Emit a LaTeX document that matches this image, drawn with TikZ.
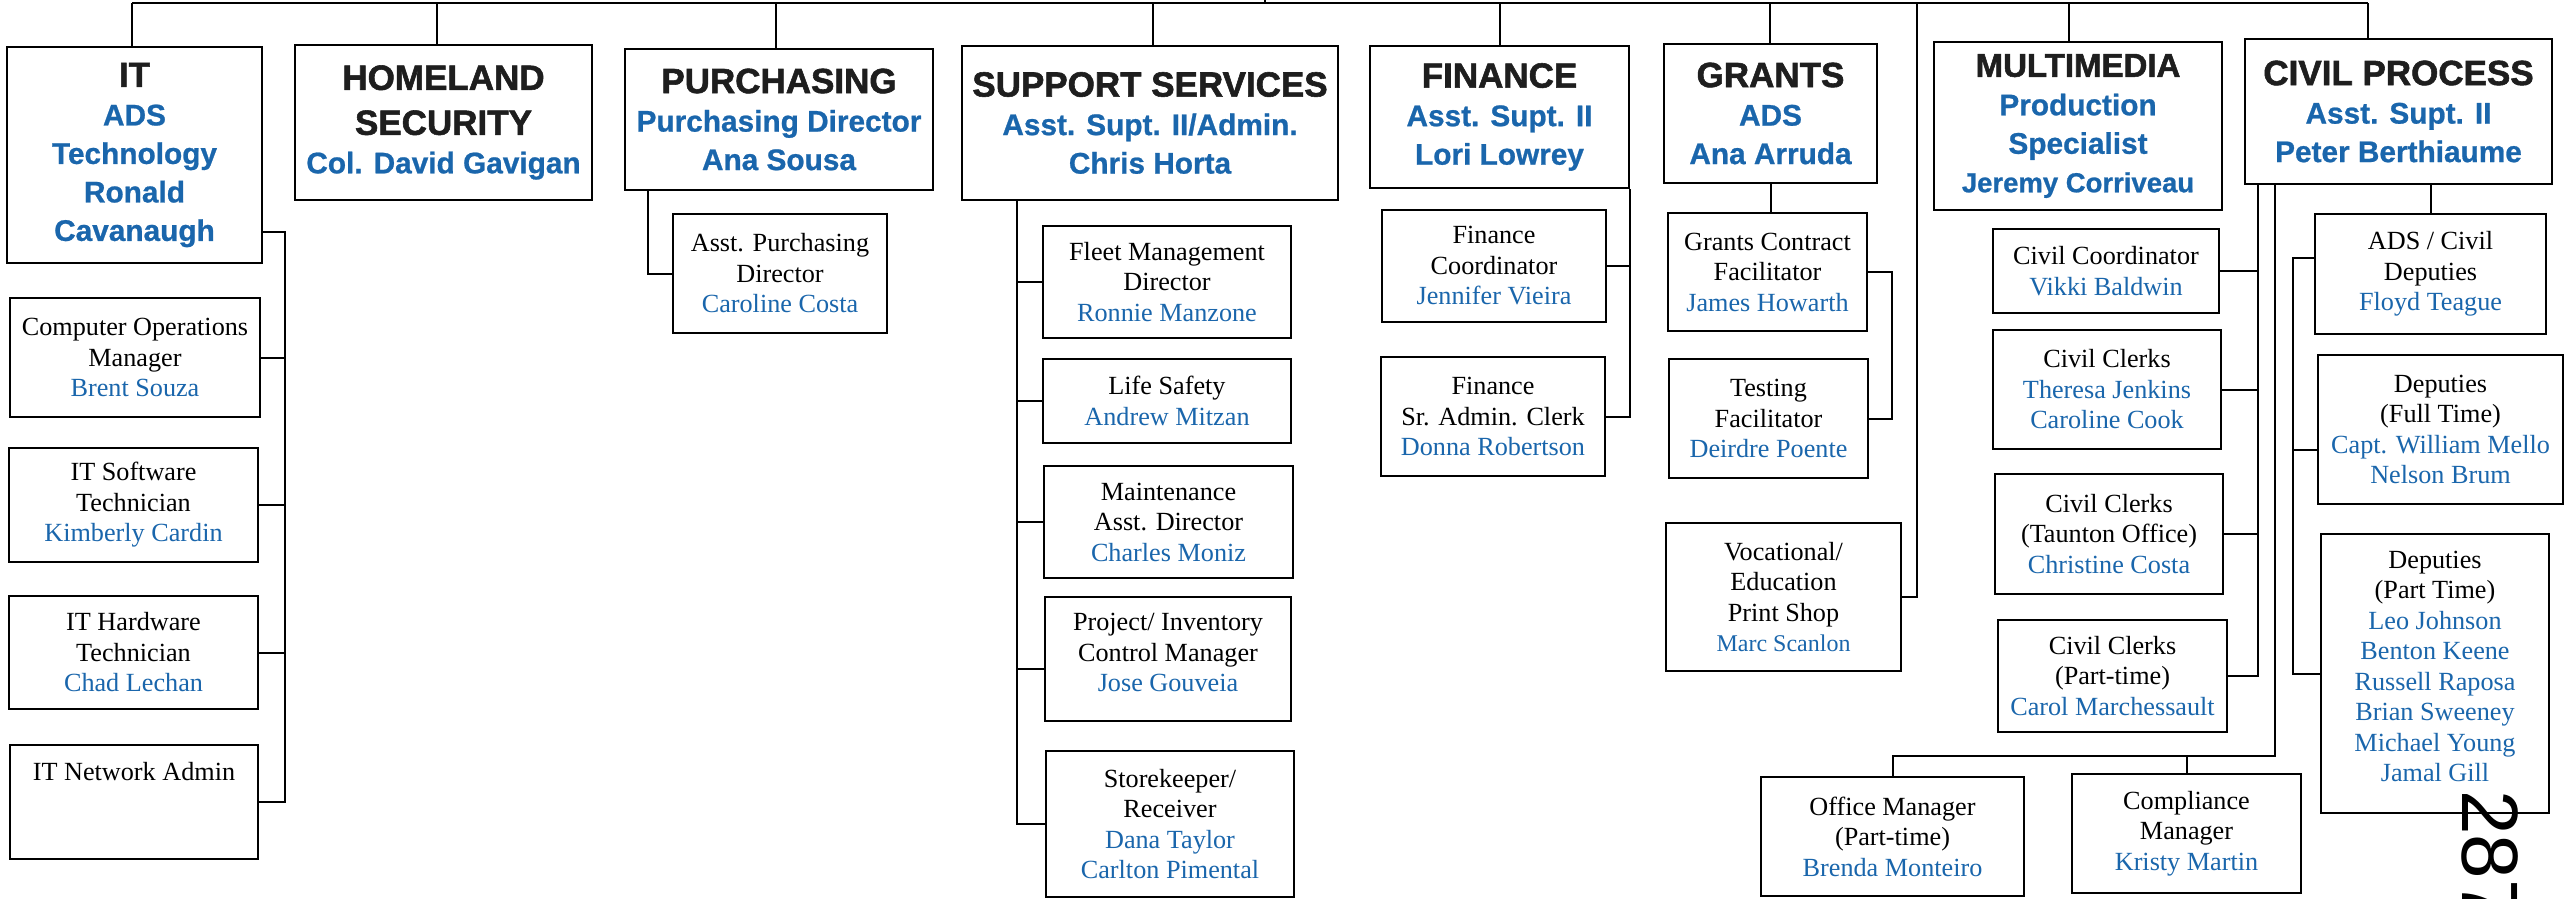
\documentclass[tikz,border=0pt]{standalone}
\usepackage{fontspec}
\setmainfont{Liberation Serif}
\setsansfont{Liberation Sans}
\newfontfamily\hvyfont[BoldFeatures={FakeBold=1.6}]{Liberation Sans}
\newfontfamily\bluefont[BoldFeatures={FakeBold=0.8}]{Liberation Sans}
\definecolor{nm}{RGB}{26,102,172}
\definecolor{hd}{RGB}{30,30,30}
\newcommand\obox[7]{%
  \pgfmathsetmacro\oW{#5-#3}\pgfmathsetmacro\oH{#6-#4}%
  \pgfmathsetmacro\oX{(#3+#5)/2}\pgfmathsetmacro\oY{(#4+#6)/2}%
  \node[#1,minimum width=\oW pt,minimum height=\oH pt] (#2) at (\oX,\oY) {#7};}
\newcommand\hdl[1]{{\color{hd}\hvyfont\bfseries\fontsize{35}{38.5}\selectfont #1}}
\newcommand\nmc[1]{\textcolor{nm}{#1}}
\begin{document}
\begin{tikzpicture}[x=1pt,y=-1pt,
  hbox/.style={draw=black,line width=2.5pt,inner sep=0pt,align=center,
    font=\bluefont\bfseries\fontsize{29.8}{38.5}\selectfont,text=nm},
  cbox/.style={draw=black,line width=2.2pt,inner sep=0pt,align=center,
    font=\fontsize{26.2}{30.5}\selectfont,text=black},
  conn/.style={draw=black,line width=2pt}]
\useasboundingbox (0,0) rectangle (2569,898);
\fill[white] (0,0) rectangle (2569,898);
% headers
\obox{hbox}{it}{7}{47}{262}{263}{\hdl{IT}\\ADS\\Technology\\Ronald\\Cavanaugh}
\obox{hbox}{hs}{295}{45}{592}{200}{\hdl{HOMELAND}\\[6.5pt]\hdl{SECURITY}\\Col. David Gavigan}
\obox{hbox}{pu}{625}{49}{933}{190}{\hdl{PURCHASING}\\Purchasing Director\\Ana Sousa}
\obox{hbox}{ss}{962}{46}{1338}{200}{\hdl{SUPPORT SERVICES}\\Asst. Supt. II/Admin.\\Chris Horta}
\obox{hbox}{fi}{1370}{46}{1629}{188}{\hdl{FINANCE}\\Asst. Supt. II\\Lori Lowrey}
\obox{hbox}{gr}{1664}{44}{1877}{183}{\hdl{GRANTS}\\ADS\\Ana Arruda}
\obox{hbox}{mm}{1934}{42}{2222}{210}{{\color{hd}\hvyfont\bfseries\fontsize{33}{38}\selectfont MULTIMEDIA}\\Production\\Specialist\\{\fontsize{27.5}{38}\selectfont Jeremy Corriveau}}
\obox{hbox}{cp}{2245}{39}{2552}{184}{\hdl{CIVIL PROCESS}\\Asst. Supt. II\\Peter Berthiaume}
% IT
\obox{cbox}{itc}{10}{298}{260}{417}{Computer Operations\\Manager\\\nmc{Brent Souza}}
\obox{cbox}{its}{9}{448}{258}{562}{IT Software\\Technician\\\nmc{Kimberly Cardin}}
\obox{cbox}{ith}{9}{596}{258}{709}{IT Hardware\\Technician\\\nmc{Chad Lechan}}
\obox{cbox}{itn}{10}{745}{258}{859}{IT Network Admin\\\mbox{}\\\mbox{}}
% Purchasing
\obox{cbox}{pa}{673}{214}{887}{333}{Asst. Purchasing\\Director\\\nmc{Caroline Costa}}
% Support services
\obox{cbox}{sf}{1043}{226}{1291}{338}{Fleet Management\\Director\\\nmc{Ronnie Manzone}}
\obox{cbox}{sl}{1043}{359}{1291}{443}{Life Safety\\\nmc{Andrew Mitzan}}
\obox{cbox}{sm}{1044}{466}{1293}{578}{Maintenance\\Asst. Director\\\nmc{Charles Moniz}}
\obox{cbox}{sp}{1045}{597}{1291}{721}{Project/ Inventory\\Control Manager\\\nmc{Jose Gouveia}\\[-18pt]\mbox{}}
\obox{cbox}{sk}{1046}{751}{1294}{897}{Storekeeper/\\Receiver\\\nmc{Dana Taylor}\\\nmc{Carlton Pimental}}
% Finance
\obox{cbox}{fc}{1382}{210}{1606}{322}{Finance\\Coordinator\\\nmc{Jennifer Vieira}}
\obox{cbox}{fs}{1381}{357}{1605}{476}{Finance\\Sr. Admin. Clerk\\\nmc{Donna Robertson}}
% Grants
\obox{cbox}{gc}{1668}{213}{1867}{331}{Grants Contract\\Facilitator\\\nmc{James Howarth}}
\obox{cbox}{gt}{1669}{359}{1868}{478}{Testing\\Facilitator\\\nmc{Deirdre Poente}}
\obox{cbox}{vo}{1666}{523}{1901}{671}{Vocational/\\Education\\Print Shop\\{\fontsize{24}{30.5}\selectfont\nmc{Marc Scanlon}}}
% Civil process
\obox{cbox}{cc}{1993}{229}{2219}{313}{Civil Coordinator\\\nmc{Vikki Baldwin}}
\obox{cbox}{ca}{1993}{330}{2221}{449}{Civil Clerks\\\nmc{Theresa Jenkins}\\\nmc{Caroline Cook}}
\obox{cbox}{cb}{1995}{474}{2223}{594}{Civil Clerks\\(Taunton Office)\\\nmc{Christine Costa}}
\obox{cbox}{cd}{1998}{620}{2227}{732}{Civil Clerks\\(Part-time)\\\nmc{Carol Marchessault}}
\obox{cbox}{om}{1761}{777}{2024}{896}{Office Manager\\(Part-time)\\\nmc{Brenda Monteiro}}
\obox{cbox}{cm}{2072}{774}{2301}{893}{Compliance\\Manager\\\nmc{Kristy Martin}}
\obox{cbox}{ad}{2315}{214}{2546}{334}{ADS / Civil\\Deputies\\\nmc{Floyd Teague}}
\obox{cbox}{df}{2318}{355}{2563}{504}{Deputies\\(Full Time)\\\nmc{Capt. William Mello}\\\nmc{Nelson Brum}}
\obox{cbox}{dp}{2321}{534}{2549}{813}{Deputies\\(Part Time)\\\nmc{Leo Johnson}\\\nmc{Benton Keene}\\\nmc{Russell Raposa}\\\nmc{Brian Sweeney}\\\nmc{Michael Young}\\\nmc{Jamal Gill}\\[-16pt]\mbox{}}
% top line and drops
\coordinate (tl) at (132,3);
\coordinate (tr) at (2368,3);
\coordinate (par) at (1265,-10);
\draw[conn] (tl) -- (tr);
\draw[conn] (par) -- (par |- tl);
\draw[conn] (tl) -- (tl |- it.north);
\coordinate (dhs) at (437,3);  \draw[conn] (dhs) -- (dhs |- hs.north);
\coordinate (dpu) at (776,3);  \draw[conn] (dpu) -- (dpu |- pu.north);
\coordinate (dss) at (1153,3); \draw[conn] (dss) -- (dss |- ss.north);
\coordinate (dfi) at (1500,3); \draw[conn] (dfi) -- (dfi |- fi.north);
\coordinate (dgr) at (1770,3); \draw[conn] (dgr) -- (dgr |- gr.north);
\coordinate (dmm) at (2069,3); \draw[conn] (dmm) -- (dmm |- mm.north);
\draw[conn] (tr) -- (tr |- cp.north);
% IT
\coordinate (itT) at (285,232);
\draw[conn] (it.east |- itT) -- (itT) -- (itT |- itn.east) -- (itn.east);
\foreach \n in {itc,its,ith} \draw[conn] (\n.east) -- (\n.east -| itT);
% Purchasing
\coordinate (puT) at (648,0);
\draw[conn] (pu.south -| puT) -- (puT |- pa.west) -- (pa.west);
% Support
\coordinate (ssT) at (1017,0);
\draw[conn] (ss.south -| ssT) -- (ssT |- sk.west) -- (sk.west);
\foreach \n in {sf,sl,sm} \draw[conn] (\n.west) -- (\n.west -| ssT);
\coordinate (spc) at (1017,669);
\draw[conn] (spc) -- (spc -| sp.west);
% Finance
\draw[conn] (fi.south east) -- (fi.south east |- fs.east) -- (fs.east);
\draw[conn] (fc.east) -- (fc.east -| fi.south east);
% Grants
\draw[conn] (gr.south) -- (gr.south |- gc.north);
\coordinate (grT) at (1892,0);
\draw[conn] (gc.east) -- (gc.east -| grT) -- (grT |- gt.east) -- (gt.east);
% Vocational
\coordinate (voT) at (1917,3);
\draw[conn] (voT) -- (voT |- vo.east) -- (vo.east);
% Civil process
\coordinate (cpA) at (2258,0);
\draw[conn] (cp.south -| cpA) -- (cpA |- cd.east) -- (cd.east);
\foreach \n in {cc,ca,cb} \draw[conn] (\n.east) -- (\n.east -| cpA);
\coordinate (cpB) at (2275,756);
\draw[conn] (cp.south -| cpB) -- (cpB) -- (cpB -| om.north) -- (om.north);
\draw[conn] (cpB -| cm.north) -- (cm.north);
\draw[conn] (cp.south -| ad.north) -- (ad.north);
\coordinate (dT) at (2293,258);
\draw[conn] (ad.west |- dT) -- (dT) -- (dT |- dp.west) -- (dp.west);
\coordinate (dfc) at (2293,450);
\draw[conn] (dfc) -- (dfc -| df.west);
% page number
\node[font=\sffamily\fontsize{80}{80}\selectfont,rotate=-90,anchor=west,inner sep=0pt] (pg) at (2490,790) {287};
\end{tikzpicture}
\end{document}
